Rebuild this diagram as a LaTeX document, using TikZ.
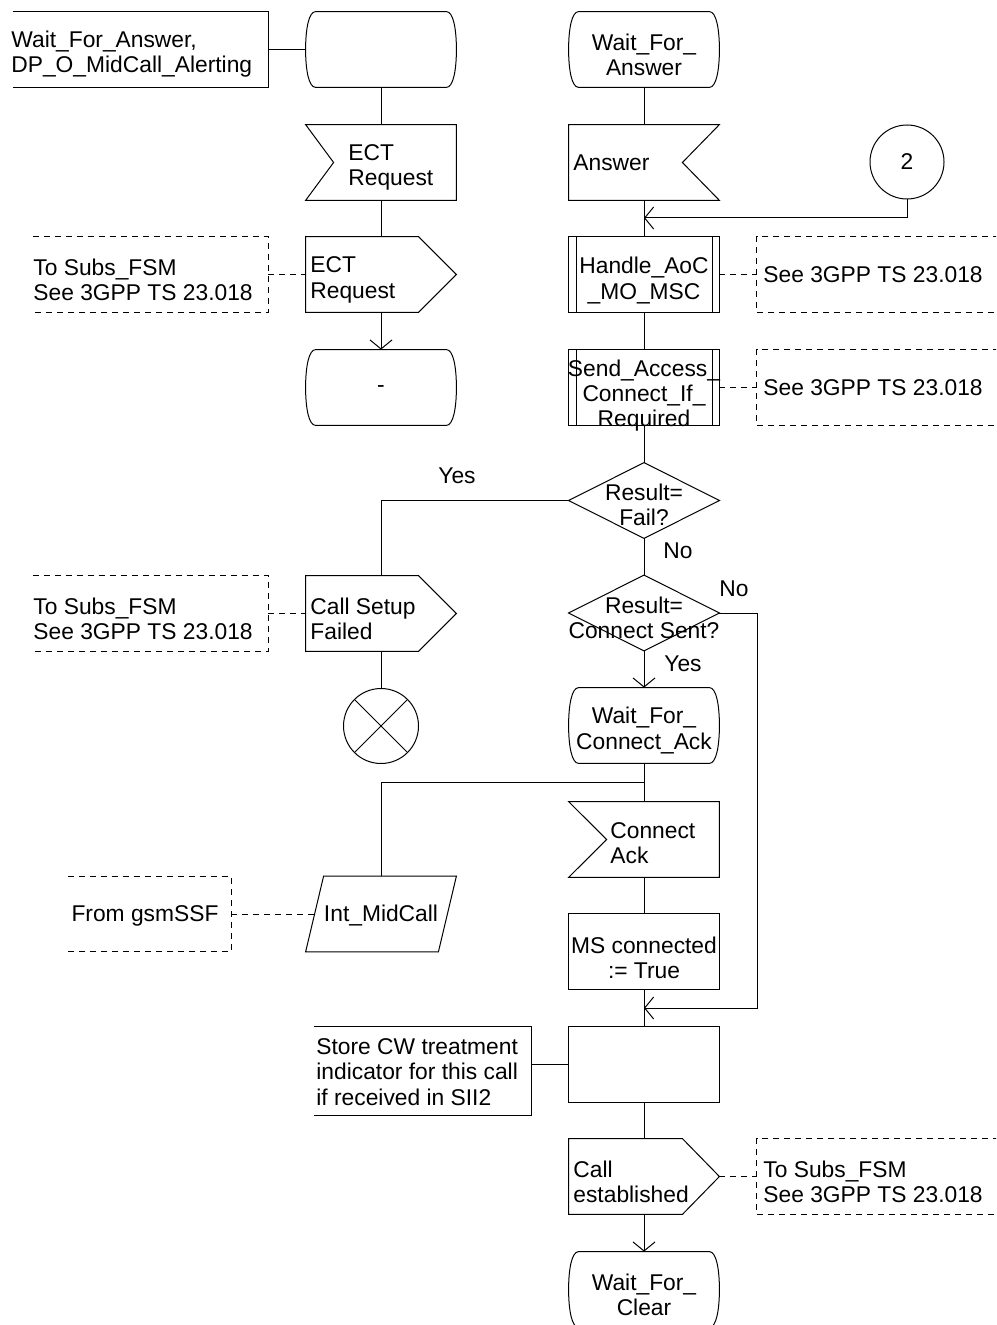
\documentclass[tikz,border=0pt]{standalone}
\usepackage{fontspec}
\setmainfont{Liberation Sans}
\usetikzlibrary{arrows.meta,calc}
\newcommand\sdlfont{\fontsize{11.4pt}{12.6pt}\selectfont}
\tikzset{
 shp/.style={rectangle,draw=none,minimum width=75pt,minimum height=37.5pt,inner sep=0pt},
 txt/.style={font=\sdlfont,inner sep=0pt,align=left},
 ctxt/.style={font=\sdlfont,inner sep=0pt,align=center},
 ln/.style={line width=0.5pt},
 dsh/.style={line width=0.5pt,dash pattern=on 3pt off 2.5pt},
 arr/.style={line width=0.5pt,-{Straight Barb[length=4.5pt,width=11pt]}},
}
\newcommand\sdlstate[1]{%
 \draw[ln] ($(#1.north west)+(10,0)$) -- ($(#1.north east)+(-10,0)$)
   .. controls ($(#1.north east)+(-3,0)$) and ($(#1.north east)+(0,18)$) .. (#1.east)
   .. controls ($(#1.south east)+(0,-18)$) and ($(#1.south east)+(-3,0)$) .. ($(#1.south east)+(-10,0)$)
   -- ($(#1.south west)+(10,0)$)
   .. controls ($(#1.south west)+(3,0)$) and ($(#1.south west)+(0,-18)$) .. (#1.west)
   .. controls ($(#1.north west)+(0,18)$) and ($(#1.north west)+(3,0)$) .. ($(#1.north west)+(10,0)$) -- cycle;}
\newcommand\sdlinL[2]{\draw[ln] (#1.north west) -- (#1.north east) -- (#1.south east) -- (#1.south west) -- ($(#1.west)+(#2,0)$) -- cycle;}
\newcommand\sdlinR[2]{\draw[ln] (#1.north west) -- (#1.north east) -- ($(#1.east)+(-#2,0)$) -- (#1.south east) -- (#1.south west) -- cycle;}
\newcommand\sdloutR[2]{\draw[ln] (#1.north west) -- ($(#1.north east)+(-#2,0)$) -- (#1.east) -- ($(#1.south east)+(-#2,0)$) -- (#1.south west) -- cycle;}
\newcommand\sdlproc[1]{\draw[ln] (#1.north west) rectangle (#1.south east);
 \draw[ln] ($(#1.north west)+(8,0)$) -- ($(#1.south west)+(8,0)$);
 \draw[ln] ($(#1.north east)+(-7,0)$) -- ($(#1.south east)+(-7,0)$);}
\newcommand\sdltask[1]{\draw[ln] (#1.north west) rectangle (#1.south east);}
\newcommand\sdldec[1]{\draw[ln] (#1.north) -- (#1.east) -- (#1.south) -- (#1.west) -- cycle;}
\newcommand\cmtopenL[2]{\draw[#2] (#1.north west) -- (#1.north east) -- (#1.south east) -- (#1.south west);}
\newcommand\cmtopenR[2]{\draw[#2] (#1.north east) -- (#1.north west) -- (#1.south west) -- (#1.south east);}
\begin{document}
\begin{tikzpicture}[x=0.5pt,y=-0.5pt]
\useasboundingbox (0,0) rectangle (996,1325);
\clip (0,0) rectangle (996,1325);

% ---------- shape nodes ----------
\node[shp,minimum width=127.5pt] (c0) at (140.5,49.5) {};
\node[shp] (s1) at (381,49.5) {};
\node[shp] (ectin) at (381,162.5) {};
\node[shp] (ectout) at (381,274.5) {};
\node[shp,minimum width=117.5pt] (c1) at (150.5,274.5) {};
\node[shp] (s2) at (381,387.5) {};
\node[shp] (csf) at (381,613.5) {};
\node[shp,minimum width=117.5pt] (c3) at (150.5,613.5) {};
\node[draw,line width=0.5pt,circle,minimum size=37.5pt,inner sep=0pt] (stop) at (381,726) {};
\node[shp] (imc) at (381,914) {};
\node[shp,minimum width=81.5pt,minimum height=37pt] (c4) at (149.5,914) {};
\node[shp,minimum width=108.5pt,minimum height=44pt] (c5) at (422.5,1071) {};

\node[shp] (s3) at (644,49.5) {};
\node[shp] (ansin) at (644,162.5) {};
\node[draw,line width=0.5pt,circle,minimum size=37pt,inner sep=0pt,font=\sdlfont] (c2) at (907,162) {2};
\node[shp] (hproc) at (644,274.5) {};
\node[shp,minimum width=126.5pt] (c6) at (883.5,274.5) {};
\node[shp] (sproc) at (644,387.5) {};
\node[shp,minimum width=126.5pt] (c7) at (883.5,387.5) {};
\node[shp] (d1) at (644,500.5) {};
\node[shp] (d2) at (644,613) {};
\node[shp] (s4) at (644,725.5) {};
\node[shp] (cain) at (644,839.5) {};
\node[shp] (mst) at (644,951.5) {};
\node[shp] (et) at (644,1064.5) {};
\node[shp] (ceo) at (644,1176.5) {};
\node[shp,minimum width=126.5pt] (c8) at (883.5,1176.5) {};
\node[shp] (s5) at (644,1289.5) {};

\coordinate (m1) at (644,218);
\coordinate (m2) at (644,1008);
\coordinate (k1) at (757,613);
\coordinate (b1) at (644,782);
\coordinate (imcl) at (315,914);

% ---------- outlines ----------
\cmtopenL{c0}{ln}
\sdlstate{s1}
\sdlinL{ectin}{28}
\sdloutR{ectout}{38}
\cmtopenL{c1}{dsh}
\sdlstate{s2}
\sdloutR{csf}{38}
\cmtopenL{c3}{dsh}
\draw[ln] (stop.north west) -- (stop.south east);
\draw[ln] (stop.north east) -- (stop.south west);
\draw[ln] ($(imc.north west)+(18,0)$) -- (imc.north east) -- ($(imc.south east)+(-18,0)$) -- (imc.south west) -- cycle;
\cmtopenL{c4}{dsh}
\cmtopenL{c5}{ln}

\sdlstate{s3}
\sdlinR{ansin}{37}
\sdlproc{hproc}
\cmtopenR{c6}{dsh}
\sdlproc{sproc}
\cmtopenR{c7}{dsh}
\sdldec{d1}
\sdldec{d2}
\sdlstate{s4}
\sdlinL{cain}{38}
\sdltask{mst}
\sdltask{et}
\sdloutR{ceo}{37}
\cmtopenR{c8}{dsh}
\sdlstate{s5}

% ---------- connectors ----------
\draw[ln] (c0.east) -- (s1.west);
\draw[ln] (s1.south) -- (ectin.north);
\draw[ln] (ectin.south) -- (ectout.north);
\draw[arr] (ectout.south) -- (s2.north);
\draw[dsh] (c1.east) -- (ectout.west);
\draw[ln] (s3.south) -- (ansin.north);
\draw[ln] (ansin.south) -- (hproc.north);
\draw[arr] (c2.south) |- (m1);
\draw[dsh] (hproc.east) -- (c6.west);
\draw[ln] (hproc.south) -- (sproc.north);
\draw[dsh] (sproc.east) -- (c7.west);
\draw[ln] (sproc.south) -- (d1.north);
\draw[ln] (d1.west) -| (csf.north);
\draw[ln] (d1.south) -- (d2.north);
\draw[arr] (d2.south) -- (s4.north);
\draw[arr] (d2.east) -- (k1) |- (m2);
\draw[dsh] (c3.east) -- (csf.west);
\draw[ln] (csf.south) -- (stop.north);
\draw[ln] (s4.south) -- (cain.north);
\draw[ln] (b1) -| (imc.north);
\draw[dsh] (c4.east) -- (imcl);
\draw[ln] (cain.south) -- (mst.north);
\draw[ln] (mst.south) -- (et.north);
\draw[ln] (c5.east |- et.west) -- (et.west);
\draw[ln] (et.south) -- (ceo.north);
\draw[dsh] (ceo.east) -- (c8.west);
\draw[arr] (ceo.south) -- (s5.north);

% ---------- texts ----------
\node[txt,anchor=west] (t0) at (11,54.5) {Wait\_For\_Answer,\\DP\_O\_MidCall\_Alerting};
\node[txt,anchor=west] (t1) at (348,167.5) {ECT\\Request};
\node[txt,anchor=west] (t2) at (310,280) {ECT\\Request};
\node[txt,anchor=west] (t3) at (33,279.5) {To Subs\_FSM\\See 3GPP TS 23.018};
\node[ctxt] (t4) at (381,389) {-};
\node[ctxt] (t5) at (644,54.5) {Wait\_For\_\\Answer};
\node[txt,anchor=west] (t6) at (573,162.5) {Answer};
\node[ctxt] (t7) at (644,280.5) {Handle\_AoC\\\_MO\_MSC};
\node[txt,anchor=west] (t8) at (763,275) {See 3GPP TS 23.018};
\node[ctxt] (t9) at (644,395.5) {Send\_Access\_\\Connect\_If\_\\Required};
\node[txt,anchor=west] (t10) at (763,388) {See 3GPP TS 23.018};
\node[ctxt] (t11) at (644,505) {Result=\\Fail?};
\node[ctxt] (t12) at (457,476) {Yes};
\node[ctxt] (t13) at (678,551) {No};
\node[ctxt] (t14) at (644,618) {Result=\\Connect Sent?};
\node[ctxt] (t15) at (734,589) {No};
\node[ctxt] (t16) at (683,664) {Yes};
\node[txt,anchor=west] (t17) at (310,618.5) {Call Setup\\Failed};
\node[txt,anchor=west] (t18) at (33,618.5) {To Subs\_FSM\\See 3GPP TS 23.018};
\node[ctxt] (t19) at (644,730.5) {Wait\_For\_\\Connect\_Ack};
\node[txt,anchor=west] (t20) at (610,843.5) {Connect\\Ack};
\node[ctxt] (t21) at (381,915.5) {Int\_MidCall};
\node[ctxt] (t22) at (145,916) {From gsmSSF};
\node[ctxt] (t23) at (644,957.5) {MS connected\\:= True};
\node[txt,anchor=west] (t24) at (316,1072) {Store CW treatment\\indicator for this call\\if received in SII2};
\node[txt,anchor=west] (t25) at (573,1182) {Call\\established};
\node[txt,anchor=west] (t26) at (763,1182) {To Subs\_FSM\\See 3GPP TS 23.018};
\node[ctxt] (t27) at (644,1295) {Wait\_For\_\\Clear};
\end{tikzpicture}
\end{document}
